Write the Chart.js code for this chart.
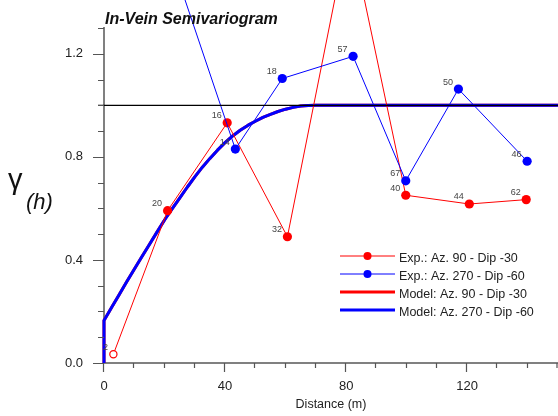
<!DOCTYPE html>
<html>
<head>
<meta charset="utf-8">
<script src="https://cdn.jsdelivr.net/npm/chart.js@4.4.1/dist/chart.umd.min.js"></script>
<style>
  html, body { margin: 0; padding: 0; background: #ffffff; }
  #wrap { width: 558px; height: 416px; }
</style>
</head>
<body>
<div id="wrap"><canvas id="vario" width="558" height="416"></canvas></div>
<script>
// Experimental semivariogram, Az. 90 / Dip -30 (lag, gamma, number of pairs)
const lag90   = [3.1, 21.0, 40.7, 60.6, 81.0, 99.7, 120.7, 139.5];
const gamma90 = [0.034, 0.591, 0.932, 0.490, 1.69, 0.651, 0.617, 0.634];
const pairs90 = [2, 20, 16, 32, null, 40, 44, 62];

// Experimental semivariogram, Az. 270 / Dip -60
const lag270   = [21.0, 43.4, 58.9, 82.3, 99.7, 117.1, 139.8];
const gamma270 = [1.61, 0.830, 1.104, 1.190, 0.707, 1.063, 0.783];
const pairs270 = [null, 14, 18, 57, 67, 50, 46];

// Fitted model (nugget + spherical structure); both directions share it
const modelLag = [0, 0, 2.5, 5, 7.5, 10, 12.5, 15, 17.5, 20, 22.5, 25, 27.5, 30, 32.5, 35,
                  37.5, 40, 42.5, 45, 47.5, 50, 52.5, 55, 57.5, 60, 62.5, 65, 67.5, 70, 150];
const modelGamma = [0, 0.165, 0.215, 0.265, 0.315, 0.364, 0.412, 0.46, 0.508, 0.555, 0.598, 0.64,
                    0.682, 0.722, 0.76, 0.794, 0.826, 0.855, 0.881, 0.903, 0.922, 0.938, 0.953,
                    0.965, 0.976, 0.985, 0.992, 0.997, 0.999, 1.0, 1.0];

// Total sill
const sill = 1.0;

// Axis ticks
const xTickValues = [0, 40, 80, 120];
const yTickValues = [0, 0.4, 0.8, 1.2];
const xMinorStep = 10;
const yMinorStep = 0.1;

const FONT = "'Liberation Sans', Arial, Helvetica, sans-serif";
const RED = '#ff0000';
const BLUE = '#0000ff';

const toPoints = (xs, ys) => xs.map((x, i) => ({ x: x, y: ys[i] }));

// Tick marks: long majors, short minors, drawn outward from the axes
const tickMarks = {
  id: 'tickMarks',
  afterDraw(chart) {
    const { ctx, chartArea: a } = chart;
    const xs = chart.scales.x, ys = chart.scales.y;
    ctx.save();
    ctx.strokeStyle = '#555555';
    ctx.lineWidth = 1.2;
    ctx.beginPath();
    for (let v = xs.min; v <= xs.max + 1e-9; v += xMinorStep) {
      const major = xTickValues.some(t => Math.abs(t - v) < 1e-6);
      const px = Math.min(Math.round(xs.getPixelForValue(v)) - 0.5, chart.width - 1);
      ctx.moveTo(px, a.bottom);
      ctx.lineTo(px, a.bottom + (major ? 9 : 5));
    }
    for (let v = ys.min; v <= ys.max + 1e-9; v += yMinorStep) {
      const major = yTickValues.some(t => Math.abs(t - v) < 1e-6);
      const py = Math.round(ys.getPixelForValue(v)) + 0.5;
      ctx.moveTo(a.left, py);
      ctx.lineTo(a.left - (major ? 11 : 6), py);
    }
    ctx.stroke();
    ctx.restore();
  }
};

// Sill reference line and pair-count labels beside each experimental point
const overlay = {
  id: 'overlay',
  afterDatasetsDraw(chart) {
    const { ctx, chartArea: a } = chart;
    const ys = chart.scales.y;
    ctx.save();
    const py = ys.getPixelForValue(sill);
    ctx.strokeStyle = '#000000';
    ctx.lineWidth = 1.3;
    ctx.beginPath();
    ctx.moveTo(a.left - 6, py);
    ctx.lineTo(chart.width, py);
    ctx.stroke();

    ctx.font = '9px ' + FONT;
    ctx.fillStyle = '#444444';
    ctx.textAlign = 'right';
    ctx.textBaseline = 'middle';
    chart.data.datasets.forEach((ds, di) => {
      if (!ds.pairs) return;
      const meta = chart.getDatasetMeta(di);
      meta.data.forEach((pt, i) => {
        const n = ds.pairs[i];
        if (n === null || n === undefined) return;
        ctx.fillText(String(n), pt.x - 5.5, pt.y - 7);
      });
    });
    ctx.restore();
  }
};

// Title, gamma axis symbol and the legend block
const decorations = {
  id: 'decorations',
  afterDraw(chart) {
    const { ctx } = chart;
    ctx.save();
    ctx.fillStyle = '#111111';
    ctx.textAlign = 'left';
    ctx.textBaseline = 'alphabetic';
    ctx.font = 'italic bold 16px ' + FONT;
    ctx.fillText('In-Vein Semivariogram', 105, 23.5);

    ctx.font = '29px ' + FONT;
    ctx.fillText('\u03B3', 8, 188.5);
    ctx.font = 'italic 22px ' + FONT;
    ctx.fillText('(h)', 26, 208.7);

    // legend
    const x0 = 340, x1 = 395, tx = 399;
    const rows = [256, 274, 292, 310];
    ctx.font = '12.5px ' + FONT;
    ctx.textBaseline = 'middle';
    chart.data.datasets.forEach((ds, i) => {
      const y = rows[i];
      ctx.strokeStyle = ds.borderColor;
      ctx.lineWidth = ds.borderWidth;
      ctx.beginPath();
      ctx.moveTo(x0, y);
      ctx.lineTo(x1, y);
      ctx.stroke();
      if (ds.pairs) {
        ctx.fillStyle = ds.borderColor;
        ctx.beginPath();
        ctx.arc((x0 + x1) / 2, y, 4, 0, Math.PI * 2);
        ctx.fill();
      }
      ctx.fillStyle = '#222222';
      ctx.fillText(ds.label, tx, y + 3);
    });
    ctx.restore();
  }
};

new Chart(document.getElementById('vario'), {
  type: 'line',
  data: {
    datasets: [
      {
        label: 'Exp.: Az. 90 - Dip -30',
        data: toPoints(lag90, gamma90),
        pairs: pairs90,
        borderColor: RED,
        borderWidth: 1,
        pointRadius: ctx => (ctx.dataIndex === 0 ? 3.6 : 4.6),
        pointBackgroundColor: ctx => (ctx.dataIndex === 0 ? '#ffffff' : RED),
        pointBorderColor: RED,
        pointBorderWidth: ctx => (ctx.dataIndex === 0 ? 1.2 : 0),
        clip: false,
        order: 1
      },
      {
        label: 'Exp.: Az. 270 - Dip -60',
        data: toPoints(lag270, gamma270),
        pairs: pairs270,
        borderColor: BLUE,
        borderWidth: 1,
        pointRadius: 4.6,
        pointBackgroundColor: BLUE,
        pointBorderWidth: 0,
        clip: false,
        order: 0
      },
      {
        label: 'Model: Az. 90 - Dip -30',
        data: toPoints(modelLag, modelGamma),
        borderColor: RED,
        borderWidth: 3,
        pointRadius: 0,
        clip: false,
        order: 3
      },
      {
        label: 'Model: Az. 270 - Dip -60',
        data: toPoints(modelLag, modelGamma),
        borderColor: BLUE,
        borderWidth: 3,
        pointRadius: 0,
        clip: false,
        order: 2
      }
    ]
  },
  options: {
    responsive: false,
    animation: false,
    layout: { autoPadding: false, padding: { top: 28, right: 0, bottom: 0, left: 0 } },
    elements: { line: { tension: 0, borderJoinStyle: 'round' } },
    plugins: {
      legend: { display: false },
      tooltip: { enabled: false },
      title: { display: false }
    },
    scales: {
      x: {
        type: 'linear',
        position: 'bottom',
        min: 0,
        max: 150,
        afterBuildTicks: s => { s.ticks = xTickValues.map(v => ({ value: v })); },
        afterFit: s => { s.height = 53; s.paddingLeft = 0; s.paddingRight = 0; },
        grid: { display: true, drawOnChartArea: false, drawTicks: false },
        border: { display: true, color: '#808080', width: 2 },
        ticks: {
          padding: 16,
          color: '#222222',
          maxRotation: 0,
          autoSkip: false,
          font: { family: FONT, size: 13 },
          callback: v => String(v)
        },
        title: {
          display: true,
          text: 'Distance (m)',
          color: '#222222',
          font: { family: FONT, size: 12.5 },
          padding: { top: 0, bottom: 3.5 }
        }
      },
      y: {
        type: 'linear',
        position: 'left',
        min: 0,
        max: 1.3,
        afterBuildTicks: s => { s.ticks = yTickValues.map(v => ({ value: v })); },
        afterFit: s => { s.width = 104; s.paddingTop = 0; s.paddingBottom = 0; },
        grid: { display: true, drawOnChartArea: false, drawTicks: false },
        border: { display: true, color: '#808080', width: 2 },
        ticks: {
          padding: 21,
          color: '#222222',
          autoSkip: false,
          font: { family: FONT, size: 13 },
          callback: v => Number(v).toFixed(1)
        }
      }
    }
  },
  plugins: [tickMarks, overlay, decorations]
});
</script>
</body>
</html>
